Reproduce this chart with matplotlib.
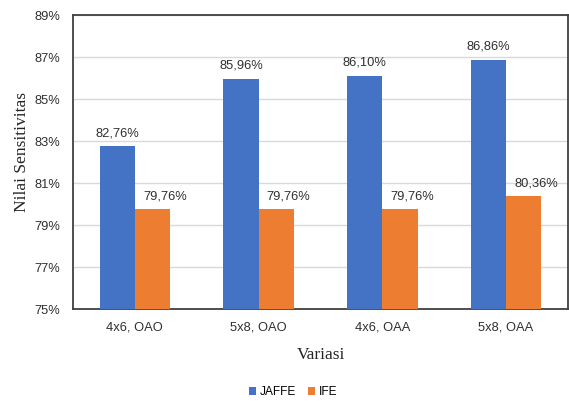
import numpy as np
import matplotlib.pyplot as plt

categories = ['4x6, OAO', '5x8, OAO', '4x6, OAA', '5x8, OAA']
jaffe = [82.76, 85.96, 86.10, 86.86]
ife = [79.76, 79.76, 79.76, 80.36]
yticks = [75, 77, 79, 81, 83, 85, 87, 89]

blue = '#4472C4'
orange = '#ED7D31'
txt = '#303030'

fig = plt.figure(figsize=(5.69, 4.01), dpi=100)
ax = fig.add_axes([73 / 569, 1 - 309 / 401, 495 / 569, 294 / 401])

x = np.arange(len(categories))
w = 0.285
b1 = ax.bar(x - w / 2, [v - 75 for v in jaffe], w, bottom=75, color=blue, label='JAFFE', zorder=3)
b2 = ax.bar(x + w / 2, [v - 75 for v in ife], w, bottom=75, color=orange, label='IFE', zorder=3)

def fmt(v):
    return ('%.2f%%' % v).replace('.', ',')

# excel nudged the orange labels to the right
for rects, vals, dx in ((b1, jaffe, 0), (b2, ife, 9)):
    for r, v in zip(rects, vals):
        ax.annotate(fmt(v), (r.get_x() + r.get_width() / 2, v), xytext=(dx, 5),
                    textcoords='offset points', ha='center', va='bottom',
                    fontsize=9.3, color=txt, family='Liberation Sans')

ax.set_xlim(-0.5, len(categories) - 0.5)
ax.set_ylim(75, 89)
ax.set_yticks(yticks)
ax.set_yticklabels(['%d%%' % t for t in yticks], family='Liberation Sans', fontsize=9.3, color=txt)
ax.set_xticks(x)
ax.set_xticklabels(categories, family='Liberation Sans', fontsize=9.3, color=txt)
ax.tick_params(length=0, pad=9)
ax.tick_params(axis='y', pad=9)
ax.yaxis.grid(True, color='#D9D9D9', linewidth=1, zorder=0)
ax.set_axisbelow(True)
for s in ax.spines.values():
    s.set_color('#404040')
    s.set_linewidth(1.3)

ax.set_ylabel('Nilai Sensitivitas', family='Liberation Serif', fontsize=12.5, color='#222222')
ax.yaxis.set_label_coords(-43 / 495, 0.534)
ax.set_xlabel('Variasi', family='Liberation Serif', fontsize=12.5, color='#222222', labelpad=10)

fig.legend(handles=[b1, b2], loc='center', bbox_to_anchor=(293 / 569, 1 - 392 / 401), ncol=2,
           frameon=False, handlelength=0.6, handleheight=0.6, handletextpad=0.3, columnspacing=1.0,
           prop={'family': 'Liberation Sans', 'size': 8.6})

fig.savefig('out.png', dpi=100)
